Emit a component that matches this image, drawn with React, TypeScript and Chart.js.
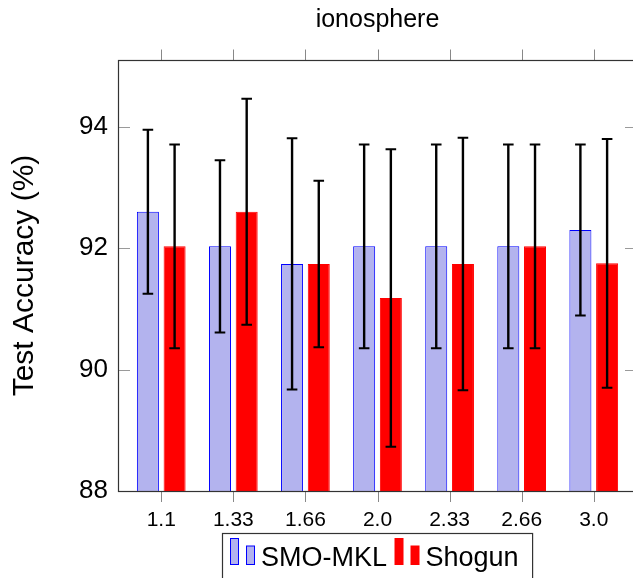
import React, { useEffect, useRef } from "react";
import { Chart, registerables } from "chart.js";

Chart.register(...registerables);

const FONT = "'Liberation Sans', Arial, sans-serif";

const categories = ["1.1", "1.33", "1.66", "2.0", "2.33", "2.66", "3.0"];
const smoMkl = [92.6, 92.03, 91.74, 92.03, 92.03, 92.03, 92.3];
const smoMklErr = [1.35, 1.42, 2.07, 1.68, 1.68, 1.68, 1.41];
const shogun = [92.03, 92.6, 91.74, 91.18, 91.74, 92.03, 91.75];
const shogunErr = [1.68, 1.86, 1.37, 2.45, 2.08, 1.68, 2.05];
const yTickValues = [88, 90, 92, 94];

const errorBarPlugin = {
  id: "errorBars",
  afterDatasetsDraw(chart: any) {
    const ctx = chart.ctx;
    const y = chart.scales.y;
    chart.data.datasets.forEach((ds: any, di: number) => {
      const meta = chart.getDatasetMeta(di);
      meta.data.forEach((el: any, i: number) => {
        const v = ds.data[i].y;
        const e = ds.errors[i];
        const top = y.getPixelForValue(v + e);
        const bot = y.getPixelForValue(v - e);
        const x = el.x;
        ctx.save();
        ctx.strokeStyle = "#000";
        ctx.lineWidth = 2.4;
        ctx.beginPath();
        ctx.moveTo(x, top);
        ctx.lineTo(x, bot);
        ctx.stroke();
        ctx.lineWidth = 2;
        ctx.beginPath();
        ctx.moveTo(x - 5.3, top);
        ctx.lineTo(x + 5.3, top);
        ctx.moveTo(x - 5.3, bot);
        ctx.lineTo(x + 5.3, bot);
        ctx.stroke();
        ctx.restore();
      });
    });
  },
};

const framePlugin = {
  id: "frameTicks",
  afterDraw(chart: any) {
    const ctx = chart.ctx;
    const { left, right, top, bottom } = chart.chartArea;
    const x = chart.scales.x;
    const y = chart.scales.y;
    ctx.save();
    ctx.strokeStyle = "#9a9a9a";
    ctx.lineWidth = 1;
    y.ticks.forEach((t: any) => {
      const py = Math.round(y.getPixelForValue(t.value)) + 0.5;
      ctx.beginPath();
      ctx.moveTo(left, py);
      ctx.lineTo(left + 12, py);
      ctx.moveTo(right, py);
      ctx.lineTo(right - 12, py);
      ctx.stroke();
    });
    ctx.strokeStyle = "#888";
    x.ticks.forEach((t: any) => {
      const px = Math.round(x.getPixelForValue(t.value)) + 0.5;
      ctx.beginPath();
      ctx.moveTo(px, bottom);
      ctx.lineTo(px, bottom + 11);
      ctx.moveTo(px, top);
      ctx.lineTo(px, top - 10.5);
      ctx.stroke();
    });
    ctx.strokeStyle = "#333";
    ctx.lineWidth = 1.2;
    ctx.strokeRect(
      Math.round(left) + 0.5,
      Math.round(top) + 0.5,
      Math.round(right) - Math.round(left),
      Math.round(bottom) - Math.round(top)
    );
    ctx.restore();
  },
};

const legendPlugin = {
  id: "boxLegend",
  afterDraw(chart: any) {
    const ctx = chart.ctx;
    const { left, right, bottom } = chart.chartArea;
    const fontSize = 27;
    ctx.save();
    ctx.font = `${fontSize}px ${FONT}`;
    const items = chart.data.datasets.map((ds: any) => ({
      label: ds.label,
      fill: ds.backgroundColor,
      stroke: ds.borderColor,
      w: ctx.measureText(ds.label).width,
    }));
    const iconW = 24.5;
    const iconGap = 6;
    const itemGap = 8;
    const padL = 8;
    const padR = 14;
    let total = padL + padR;
    items.forEach((it: any, i: number) => {
      total += iconW + iconGap + it.w + (i > 0 ? itemGap : 0);
    });
    const cx = (left + right) / 2;
    const bx = Math.round(cx - total / 2) + 0.5;
    const by = Math.round(bottom + 42) + 0.5;
    ctx.strokeStyle = "#333";
    ctx.lineWidth = 1.2;
    ctx.strokeRect(bx, by, total, 50);
    let xx = bx + padL;
    items.forEach((it: any, i: number) => {
      if (i > 0) xx += itemGap;
      ctx.fillStyle = it.fill;
      ctx.strokeStyle = it.stroke;
      ctx.lineWidth = 1;
      ctx.fillRect(xx, by + 5, 8, 26);
      ctx.strokeRect(xx, by + 5, 8, 26);
      ctx.fillRect(xx + 16, by + 12.5, 8, 18.5);
      ctx.strokeRect(xx + 16, by + 12.5, 8, 18.5);
      xx += iconW + iconGap;
      ctx.fillStyle = "#000";
      ctx.textBaseline = "alphabetic";
      ctx.textAlign = "left";
      ctx.fillText(it.label, xx, by + 32);
      xx += it.w;
    });
    ctx.restore();
  },
};

export default function App() {
  const canvasRef = useRef<HTMLCanvasElement | null>(null);

  useEffect(() => {
    const canvas = canvasRef.current;
    if (!canvas) return;
    const chart = new Chart(canvas, {
      type: "bar",
      data: {
        datasets: [
          {
            label: "SMO-MKL",
            data: smoMkl.map((v, i) => ({ x: i, y: v })),
            errors: smoMklErr,
            backgroundColor: "rgb(179,179,238)",
            borderColor: "#0000ff",
            borderWidth: 1,
            categoryPercentage: 0.741,
            barPercentage: 0.824,
          } as any,
          {
            label: "Shogun",
            data: shogun.map((v, i) => ({ x: i, y: v })),
            errors: shogunErr,
            backgroundColor: "#ff0000",
            borderColor: "#ff0000",
            borderWidth: 1,
            categoryPercentage: 0.741,
            barPercentage: 0.824,
          } as any,
        ],
      },
      options: {
        animation: false,
        responsive: true,
        maintainAspectRatio: false,
        layout: { padding: { left: 0, right: 23, top: 0, bottom: 0 } },
        plugins: {
          legend: { display: false },
          tooltip: { enabled: false },
          title: {
            display: true,
            text: "ionosphere",
            fullSize: false,
            color: "#000",
            font: { family: FONT, size: 25, weight: "normal" },
            padding: { top: 5, bottom: 25 },
          },
        },
        scales: {
          x: {
            type: "linear",
            position: "bottom",
            offset: false,
            min: -0.6,
            max: 6.6,
            grid: { display: false, drawTicks: false, offset: false },
            border: { display: false },
            afterBuildTicks: (s: any) => {
              s.ticks = categories.map((_, i) => ({ value: i }));
            },
            afterFit: (s: any) => {
              s.height = 149;
            },
            ticks: {
              autoSkip: false,
              maxRotation: 0,
              minRotation: 0,
              padding: 17,
              color: "#000",
              font: { family: FONT, size: 21 },
              callback: (v: any) => categories[Math.round(Number(v))] ?? "",
            },
          },
          y: {
            type: "linear",
            min: 88,
            max: 95.1,
            grid: { display: false, drawTicks: false },
            border: { display: false },
            afterBuildTicks: (s: any) => {
              s.ticks = yTickValues.map((v) => ({ value: v }));
            },
            afterFit: (s: any) => {
              s.width = 118;
            },
            ticks: {
              padding: 10,
              color: "#000",
              font: { family: FONT, size: 26 },
            },
            title: {
              display: true,
              text: "Test Accuracy (%)",
              color: "#000",
              font: { family: FONT, size: 30 },
              padding: { top: 6.6, bottom: 0 },
            },
          },
        },
      } as any,
      plugins: [errorBarPlugin, framePlugin, legendPlugin],
    });
    return () => chart.destroy();
  }, []);

  return (
    <div
      style={{
        position: "fixed",
        left: 0,
        top: 0,
        width: 633,
        height: 578,
        overflow: "hidden",
        background: "#fff",
      }}
    >
      <div style={{ position: "relative", width: 660, height: 640 }}>
        <canvas ref={canvasRef} />
      </div>
    </div>
  );
}
